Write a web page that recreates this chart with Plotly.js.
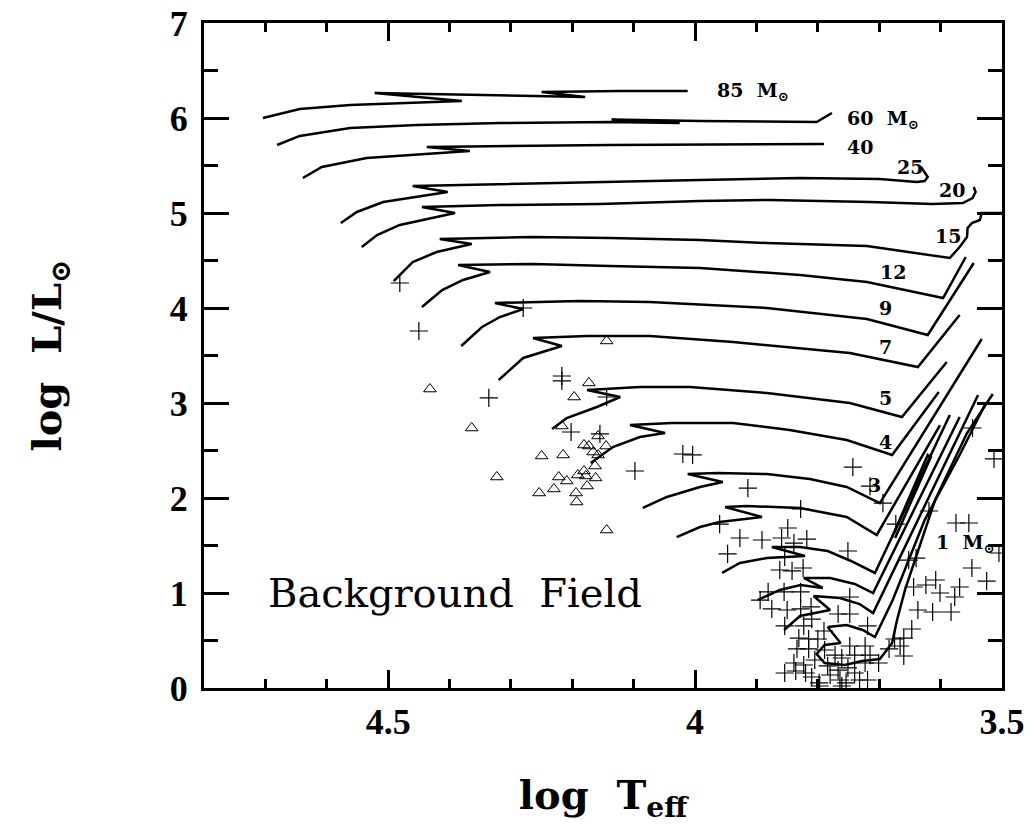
<!DOCTYPE html>
<html>
<head>
<meta charset="utf-8">
<script src="https://cdn.plot.ly/plotly-3.0.1.min.js"></script>
<style>html,body{margin:0;padding:0;background:#fff}#chart{width:1034px;height:824px}</style>
</head>
<body>
<div id="chart"></div>
<script>
// ---- axis ticks ----
const xTickVals = [4.5, 4, 3.5];
const xTickText = ['4.5', '4', '3.5'];
const yTickVals = [0, 1, 2, 3, 4, 5, 6, 7];
const yTickText = ['0', '1', '2', '3', '4', '5', '6', '7'];

// ---- evolutionary tracks (log Teff, log L/Lsun) ----
const t85T = [4.704, 4.644, 4.562, 4.481, 4.380, 4.522, 4.179, 4.250, 4.122, 4.012];
const t85L = [6.000, 6.095, 6.137, 6.158, 6.179, 6.263, 6.221, 6.274, 6.284, 6.284];
const t60T = [4.681, 4.644, 4.562, 4.453, 4.318, 4.139, 4.025, 4.136, 3.992, 3.802, 3.777];
const t60L = [5.716, 5.811, 5.895, 5.926, 5.947, 5.958, 5.947, 5.984, 5.968, 5.958, 6.053];
const t40T = [4.639, 4.608, 4.535, 4.367, 4.437, 4.139, 3.790];
const t40L = [5.368, 5.484, 5.579, 5.653, 5.695, 5.716, 5.726];
const t25T = [4.577, 4.551, 4.508, 4.403, 4.460, 4.318, 4.139, 3.992, 3.829, 3.699, 3.639, 3.626, 3.621, 3.626, 3.632];
const t25L = [4.895, 5.011, 5.116, 5.221, 5.284, 5.305, 5.326, 5.347, 5.368, 5.358, 5.326, 5.337, 5.379, 5.432, 5.484];
const t20T = [4.543, 4.518, 4.481, 4.391, 4.445, 4.318, 4.155, 3.992, 3.878, 3.715, 3.613, 3.564, 3.548, 3.543, 3.546];
const t20L = [4.642, 4.768, 4.874, 5.000, 5.063, 5.084, 5.095, 5.126, 5.137, 5.116, 5.095, 5.105, 5.158, 5.221, 5.274];
const t15T = [4.491, 4.460, 4.421, 4.364, 4.416, 4.264, 4.139, 3.992, 3.883, 3.720, 3.585, 3.569, 3.557, 3.556, 3.549, 3.536, 3.533, 3.500];
const t15L = [4.284, 4.484, 4.589, 4.674, 4.726, 4.747, 4.737, 4.716, 4.684, 4.653, 4.526, 4.642, 4.747, 4.842, 4.895, 4.926, 5.000, 5.000];
const t12T = [4.445, 4.412, 4.378, 4.334, 4.386, 4.264, 4.139, 3.992, 3.829, 3.720, 3.596, 3.559];
const t12L = [4.011, 4.189, 4.295, 4.379, 4.453, 4.463, 4.442, 4.421, 4.347, 4.274, 4.105, 4.537];
const t9T = [4.381, 4.347, 4.318, 4.280, 4.326, 4.253, 4.188, 4.074, 3.883, 3.720, 3.621, 3.546];
const t9L = [3.600, 3.800, 3.905, 3.989, 4.053, 4.063, 4.074, 4.063, 4.000, 3.884, 3.716, 4.474];
const t7T = [4.320, 4.280, 4.217, 4.264, 4.176, 4.074, 3.938, 3.748, 3.637, 3.569];
const t7L = [3.242, 3.474, 3.600, 3.684, 3.705, 3.705, 3.642, 3.526, 3.379, 3.926];
const t5T = [4.233, 4.209, 4.160, 4.122, 4.176, 4.090, 4.008, 3.883, 3.748, 3.663, 3.590];
const t5L = [2.726, 2.842, 2.958, 3.063, 3.137, 3.168, 3.168, 3.105, 3.000, 2.853, 3.432];
const t4T = [4.170, 4.134, 4.090, 4.049, 4.106, 4.038, 3.938, 3.846, 3.753, 3.679, 3.603];
const t4L = [2.368, 2.537, 2.642, 2.684, 2.768, 2.789, 2.789, 2.716, 2.611, 2.453, 3.116];
const t3T = [4.085, 4.046, 3.992, 3.955, 4.012, 3.964, 3.883, 3.813, 3.753, 3.699, 3.533];
const t3L = [1.895, 2.011, 2.116, 2.168, 2.253, 2.263, 2.253, 2.200, 2.116, 1.947, 3.674];
const t25lT = [4.030, 3.992, 3.960, 3.891, 3.951, 3.916, 3.829, 3.753, 3.704, 3.601];
const t25lL = [1.589, 1.695, 1.747, 1.800, 1.905, 1.916, 1.895, 1.800, 1.611, 2.768];
const t2T = [3.956, 3.927, 3.883, 3.821, 3.875, 3.829, 3.784, 3.746, 3.707, 3.585];
const t2L = [1.211, 1.316, 1.368, 1.389, 1.484, 1.484, 1.442, 1.337, 1.211, 2.874];
const t15lT = [3.898, 3.862, 3.828, 3.792, 3.823, 3.780, 3.740, 3.710, 3.569];
const t15lL = [0.926, 1.032, 1.084, 1.053, 1.158, 1.158, 1.095, 1.000, 2.853];
const t125T = [3.855, 3.829, 3.780, 3.807, 3.764, 3.732, 3.710, 3.539];
const t125L = [0.611, 0.758, 0.821, 0.968, 0.947, 0.884, 0.789, 3.084];
const t1T = [3.784, 3.753, 3.727, 3.707, 3.678, 3.626, 3.569, 3.528];
const t1L = [0.642, 0.663, 0.611, 0.537, 0.926, 1.768, 2.453, 2.979];
const t08T = [3.784, 3.763, 3.789, 3.802, 3.789, 3.756, 3.728, 3.699, 3.679, 3.671, 3.658, 3.609, 3.557, 3.515];
const t08L = [0.642, 0.474, 0.453, 0.358, 0.263, 0.242, 0.284, 0.305, 0.474, 0.716, 1.032, 1.979, 2.684, 3.095];
const segT = [3.679, 3.621, 3.616, 3.674];
const segL = [1.589, 2.453, 2.430, 1.580];

// ---- background field stars (crosses) ----
const crossT = [
  4.481, 4.450, 4.336, 4.280, 4.217, 4.217, 4.144, 4.202, 4.155, 4.098,
  4.020, 4.004, 3.914, 3.828, 3.960, 3.849, 3.743, 3.715, 3.694, 3.673,
  3.619, 3.927, 3.891, 3.859, 3.839, 3.818, 3.947, 3.854, 3.751, 3.862,
  3.842, 3.824, 3.881, 3.855, 3.828, 3.894, 3.875, 3.850, 3.828, 3.811,
  3.767, 3.748, 3.748, 3.854, 3.823, 3.810, 3.790, 3.719, 3.647, 3.660,
  3.831, 3.815, 3.800, 3.834, 3.815, 3.748, 3.723, 3.675, 3.666, 3.684,
  3.660, 3.839, 3.823, 3.723, 3.701, 3.854, 3.836, 3.820, 3.798, 3.754,
  3.732, 3.719, 3.784, 3.767, 3.751, 3.575, 3.554, 3.549, 3.525, 3.608,
  3.644, 3.624, 3.601, 3.577, 3.569, 3.637, 3.613, 3.583, 3.652, 3.640,
  3.548, 3.513, 3.505, 3.797, 3.761, 3.772, 3.761, 3.740, 3.780, 3.764,
  3.740, 3.789, 3.715, 3.805, 3.810
];
const crossL = [
  4.263, 3.758, 3.053, 4.000, 3.284, 3.232, 3.063, 2.695, 2.674, 2.284,
  2.463, 2.453, 2.105, 1.884, 1.726, 1.684, 2.326, 2.126, 1.947, 1.726,
  1.863, 1.579, 1.558, 1.579, 1.526, 1.568, 1.411, 1.379, 1.442, 1.242,
  1.232, 1.263, 1.011, 1.011, 1.011, 0.926, 0.832, 0.821, 0.832, 0.853,
  0.779, 0.779, 0.958, 0.653, 0.653, 0.726, 0.600, 0.653, 0.621, 0.526,
  0.526, 0.516, 0.516, 0.411, 0.411, 0.442, 0.442, 0.516, 0.442, 0.411,
  0.337, 0.263, 0.242, 0.263, 0.263, 0.158, 0.179, 0.158, 0.053, 0.053,
  0.084, 0.084, 0.232, 0.189, 0.211, 1.737, 1.737, 1.263, 1.126, 1.137,
  1.063, 1.084, 1.000, 0.958, 1.063, 0.821, 0.800, 0.800, 1.347, 1.368,
  2.737, 2.411, 1.421, 0.021, 0.021, 0.347, 0.316, 0.347, 0.137, 0.084,
  0.158, 0.400, 0.347, 0.295, 0.116
];

// ---- triangles ----
const triT = [
  4.144, 4.432, 4.173, 4.197, 4.364, 4.217, 4.158, 4.181, 4.173, 4.145,
  4.166, 4.158, 4.250, 4.215, 4.163, 4.181, 4.323, 4.222, 4.191, 4.178,
  4.162, 4.209, 4.176, 4.230, 4.254, 4.194, 4.193, 4.144
];
const triL = [
  3.653, 3.147, 3.211, 3.063, 2.737, 2.758, 2.653, 2.558, 2.547, 2.547,
  2.484, 2.453, 2.442, 2.453, 2.337, 2.284, 2.221, 2.221, 2.242, 2.232,
  2.211, 2.179, 2.126, 2.095, 2.053, 2.053, 1.958, 1.663
];

// ---- track labels ----
const labelText = ['85&nbsp;&nbsp;M<sub>⊙</sub>', '60&nbsp;&nbsp;M<sub>⊙</sub>', '40', '25', '20', '15', '12', '9', '7', '5', '4', '3', '1&nbsp;&nbsp;M<sub>⊙</sub>'];
const labelT = [3.968, 3.756, 3.756, 3.675, 3.606, 3.613, 3.702, 3.704, 3.704, 3.704, 3.704, 3.722, 3.611];
const labelL = [6.284, 5.989, 5.695, 5.484, 5.242, 4.758, 4.379, 4.000, 3.589, 3.053, 2.589, 2.137, 1.526];

const tracks = [
  [t85T, t85L], [t60T, t60L], [t40T, t40L], [t25T, t25L], [t20T, t20L],
  [t15T, t15L], [t12T, t12L], [t9T, t9L], [t7T, t7L], [t5T, t5L],
  [t4T, t4L], [t3T, t3L], [t25lT, t25lL], [t2T, t2L], [t15lT, t15lL],
  [t125T, t125L], [t1T, t1L], [t08T, t08L], [segT, segL]
];

const data = tracks.map(tr => ({
  x: tr[0], y: tr[1], type: 'scatter', mode: 'lines',
  line: {color: '#000', width: 2.5}, hoverinfo: 'skip', showlegend: false
}));
data.push({
  x: crossT, y: crossL, type: 'scatter', mode: 'markers', showlegend: false,
  marker: {symbol: 'cross-thin-open', size: 13, color: '#000', line: {color: '#000', width: 1.2}}
});
data.push({
  x: triT, y: triL, type: 'scatter', mode: 'markers', showlegend: false,
  marker: {symbol: 'triangle-up-open', size: 11, color: '#000', line: {color: '#000', width: 1}}
});

const labelFont = {family: 'DejaVu Serif', size: 19, color: '#000', weight: 'bold'};
const annotations = labelText.map((t, i) => ({
  x: labelT[i], y: labelL[i], xref: 'x', yref: 'y', text: t, showarrow: false,
  xanchor: 'left', yanchor: 'middle', font: labelFont
}));
annotations.push({
  x: 4.391, y: 1.0, xref: 'x', yref: 'y', text: 'Background\u00a0\u00a0Field', showarrow: false,
  xanchor: 'center', yanchor: 'middle',
  font: {family: 'DejaVu Serif', size: 40, color: '#000'}
});

const tickFont = {family: 'Liberation Serif', size: 36, color: '#000', weight: 'bold'};
const titleFont = {family: 'DejaVu Serif', size: 40, color: '#000', weight: 'bold'};

const layout = {
  width: 1034, height: 824,
  margin: {l: 204, r: 32, t: 23, b: 136},
  paper_bgcolor: '#fff', plot_bgcolor: '#fff',
  showlegend: false,
  xaxis: {
    range: [4.8, 3.5], tickmode: 'array', tickvals: xTickVals, ticktext: xTickText,
    ticks: 'inside', ticklen: 18, tickwidth: 3, tickcolor: '#000',
    minor: {dtick: 0.1, tick0: 3.5, ticks: 'inside', ticklen: 9, tickwidth: 3, tickcolor: '#000', showgrid: false},
    showline: true, linewidth: 3, linecolor: '#000', mirror: 'allticks',
    showgrid: false, zeroline: false, tickfont: tickFont, ticklabelstandoff: 0,
    title: {text: 'log&nbsp;&nbsp;T<sub>eff</sub>', font: titleFont, standoff: 40}
  },
  yaxis: {
    range: [0, 7], tickmode: 'array', tickvals: yTickVals, ticktext: yTickText,
    ticks: 'inside', ticklen: 25, tickwidth: 3, tickcolor: '#000',
    minor: {dtick: 0.5, tick0: 0, ticks: 'inside', ticklen: 14, tickwidth: 3, tickcolor: '#000', showgrid: false},
    showline: true, linewidth: 3, linecolor: '#000', mirror: 'allticks',
    showgrid: false, zeroline: false, tickfont: tickFont, ticklabelstandoff: 6,
    title: {text: 'log&nbsp;&nbsp;L/L<sub>⊙</sub>', font: titleFont, standoff: 96}
  },
  annotations: annotations
};

Plotly.newPlot('chart', data, layout, {displayModeBar: false, staticPlot: true});
</script>
</body>
</html>
